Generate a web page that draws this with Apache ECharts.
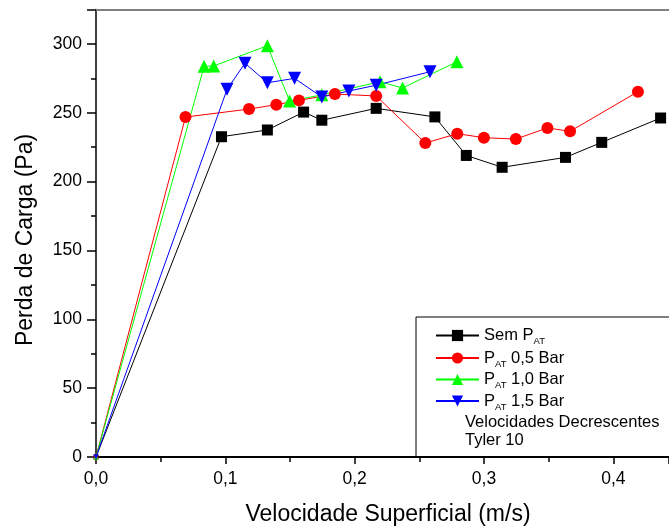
<!DOCTYPE html>
<html>
<head>
<meta charset="utf-8">
<script src="https://cdn.jsdelivr.net/npm/echarts@6/dist/echarts.min.js"></script>
<style>
html,body{margin:0;padding:0;background:#fff;}
#chart{width:669px;height:530px;}
</style>
</head>
<body>
<div id="chart"></div>
<script>
// Data
var semX = [0, 0.097, 0.1325, 0.1605, 0.1746, 0.2166, 0.262, 0.2863, 0.314, 0.363, 0.391, 0.4365];
var semY = [0, 232.6, 237.5, 250.5, 244.6, 253.2, 247, 219, 210.4, 217.6, 228.5, 246.2];

var p05X = [0, 0.0692, 0.1183, 0.1394, 0.1569, 0.1847, 0.2166, 0.2546, 0.2793, 0.2999, 0.3246, 0.349, 0.3665, 0.419];
var p05Y = [0, 246.9, 252.7, 255.9, 259, 263.6, 262.2, 228, 234.8, 231.9, 230.9, 239, 236.5, 265.3];

var p10X = [0, 0.0836, 0.091, 0.1325, 0.1497, 0.1746, 0.2196, 0.237, 0.279];
var p10Y = [0, 283.7, 284, 298.7, 258.5, 263, 272.5, 268, 287];

var p15X = [0, 0.1013, 0.1152, 0.1325, 0.1535, 0.1746, 0.1955, 0.2166, 0.2582];
var p15Y = [0, 267, 286, 271.8, 275, 261.4, 265.8, 270, 279.8];

var seriesNames = ['Sem PAT', 'PAT 0,5 Bar', 'PAT 1,0 Bar', 'PAT 1,5 Bar'];
var legendRich = {
  'Sem PAT': '{n|Sem P}{s|AT}',
  'PAT 0,5 Bar': '{n|P}{s|AT}{n| 0,5 Bar}',
  'PAT 1,0 Bar': '{n|P}{s|AT}{n| 1,0 Bar}',
  'PAT 1,5 Bar': '{n|P}{s|AT}{n| 1,5 Bar}'
};
var noteLines = ['Velocidades Decrescentes', 'Tyler 10'];
var xTitle = 'Velocidade Superficial (m/s)';
var yTitle = 'Perda de Carga (Pa)';

function pairs(xs, ys) {
  return xs.map(function (x, i) {
    var item = {value: [x, ys[i]]};
    if (x === 0 && ys[i] === 0) item.symbolSize = 5;
    return item;
  });
}
function comma(v, d) { return v.toFixed(d).replace('.', ','); }

var FONT = '"Liberation Sans", Arial, sans-serif';
var chart = echarts.init(document.getElementById('chart'), null, {renderer: 'canvas'});

var legendRowCenters = [334, 356.5, 378, 399.5];
var legends = seriesNames.map(function (name, i) {
  return {
    data: [name],
    orient: 'vertical',
    left: 435, top: legendRowCenters[i] - 7,
    padding: 0,
    itemWidth: 43, itemHeight: 14,
    selectedMode: false,
    formatter: function (nm) { return legendRich[nm]; },
    textStyle: {
      color: '#000', fontFamily: FONT, fontSize: 16.5,
      rich: {
        n: {fontSize: 16.5, fontFamily: FONT, color: '#000', lineHeight: 16, verticalAlign: 'middle'},
        s: {fontSize: 9.5, fontFamily: FONT, color: '#000', lineHeight: 16, verticalAlign: 'bottom', padding: [0, 0, -3, 0]}
      }
    }
  };
});

chart.setOption({
  animation: false,
  backgroundColor: '#fff',
  grid: {left: 96, right: 0, top: 9.5, bottom: 73, containLabel: false},
  xAxis: [{
    type: 'value', min: 0, max: 0.443, interval: 0.1,
    axisLine: {show: true, onZero: false, lineStyle: {color: '#000', width: 2}},
    axisTick: {show: true, inside: false, length: 7, lineStyle: {color: '#000', width: 1.5}},
    minorTick: {show: true, splitNumber: 2, length: 5, lineStyle: {color: '#000', width: 1.5}},
    splitLine: {show: false},
    axisLabel: {showMaxLabel: false, margin: 13, color: '#000', fontSize: 17.5, fontFamily: FONT,
      formatter: function (v) { return comma(v, 1); }}
  }, {
    type: 'value', min: 0, max: 0.443, position: 'top',
    axisLine: {show: true, onZero: false, lineStyle: {color: '#808080', width: 2}},
    axisTick: {show: false}, axisLabel: {show: false}, splitLine: {show: false}
  }],
  yAxis: {
    type: 'value', min: 0, max: 325, interval: 50,
    axisLine: {show: true, onZero: false, lineStyle: {color: '#000', width: 1.5}},
    axisTick: {show: true, inside: false, length: 9, lineStyle: {color: '#000', width: 1.5}},
    minorTick: {show: true, splitNumber: 2, length: 5, lineStyle: {color: '#000', width: 1.5}},
    splitLine: {show: false},
    axisLabel: {showMaxLabel: false, margin: 14, color: '#000', fontSize: 17.5, fontFamily: FONT}
  },
  legend: legends,
  graphic: [
    {type: 'rect', shape: {x: 416, y: 317, width: 300, height: 140},
      style: {fill: 'none', stroke: '#000', lineWidth: 1}, z: 5},
    {type: 'text', x: 465, y: 422, style: {text: noteLines[0], fill: '#000', font: '16.5px ' + FONT, textVerticalAlign: 'middle'}, z: 6},
    {type: 'text', x: 465, y: 440, style: {text: noteLines[1], fill: '#000', font: '16.5px ' + FONT, textVerticalAlign: 'middle'}, z: 6},
    {type: 'text', x: 388, y: 515, style: {text: xTitle, fill: '#000', font: '23px ' + FONT, textAlign: 'center', textVerticalAlign: 'middle'}, z: 6},
    {type: 'text', x: 26, y: 240, rotation: Math.PI / 2, style: {text: yTitle, fill: '#000', font: '23px ' + FONT, textAlign: 'center', textVerticalAlign: 'middle'}, z: 6}
  ],
  series: [
    {name: seriesNames[0], type: 'line', data: pairs(semX, semY), symbol: 'rect', symbolSize: 11,
      lineStyle: {color: '#000', width: 1}, itemStyle: {color: '#000'}},
    {name: seriesNames[1], type: 'line', data: pairs(p05X, p05Y), symbol: 'circle', symbolSize: 12,
      lineStyle: {color: '#ff0000', width: 1}, itemStyle: {color: '#ff0000'}},
    {name: seriesNames[2], type: 'line', data: pairs(p10X, p10Y), symbol: 'triangle', symbolSize: 13,
      lineStyle: {color: '#00ff00', width: 1}, itemStyle: {color: '#00ff00'}},
    {name: seriesNames[3], type: 'line', data: pairs(p15X, p15Y), symbol: 'triangle', symbolRotate: 180, symbolSize: 13,
      lineStyle: {color: '#0000ff', width: 1}, itemStyle: {color: '#0000ff'}}
  ]
});
</script>
</body>
</html>
